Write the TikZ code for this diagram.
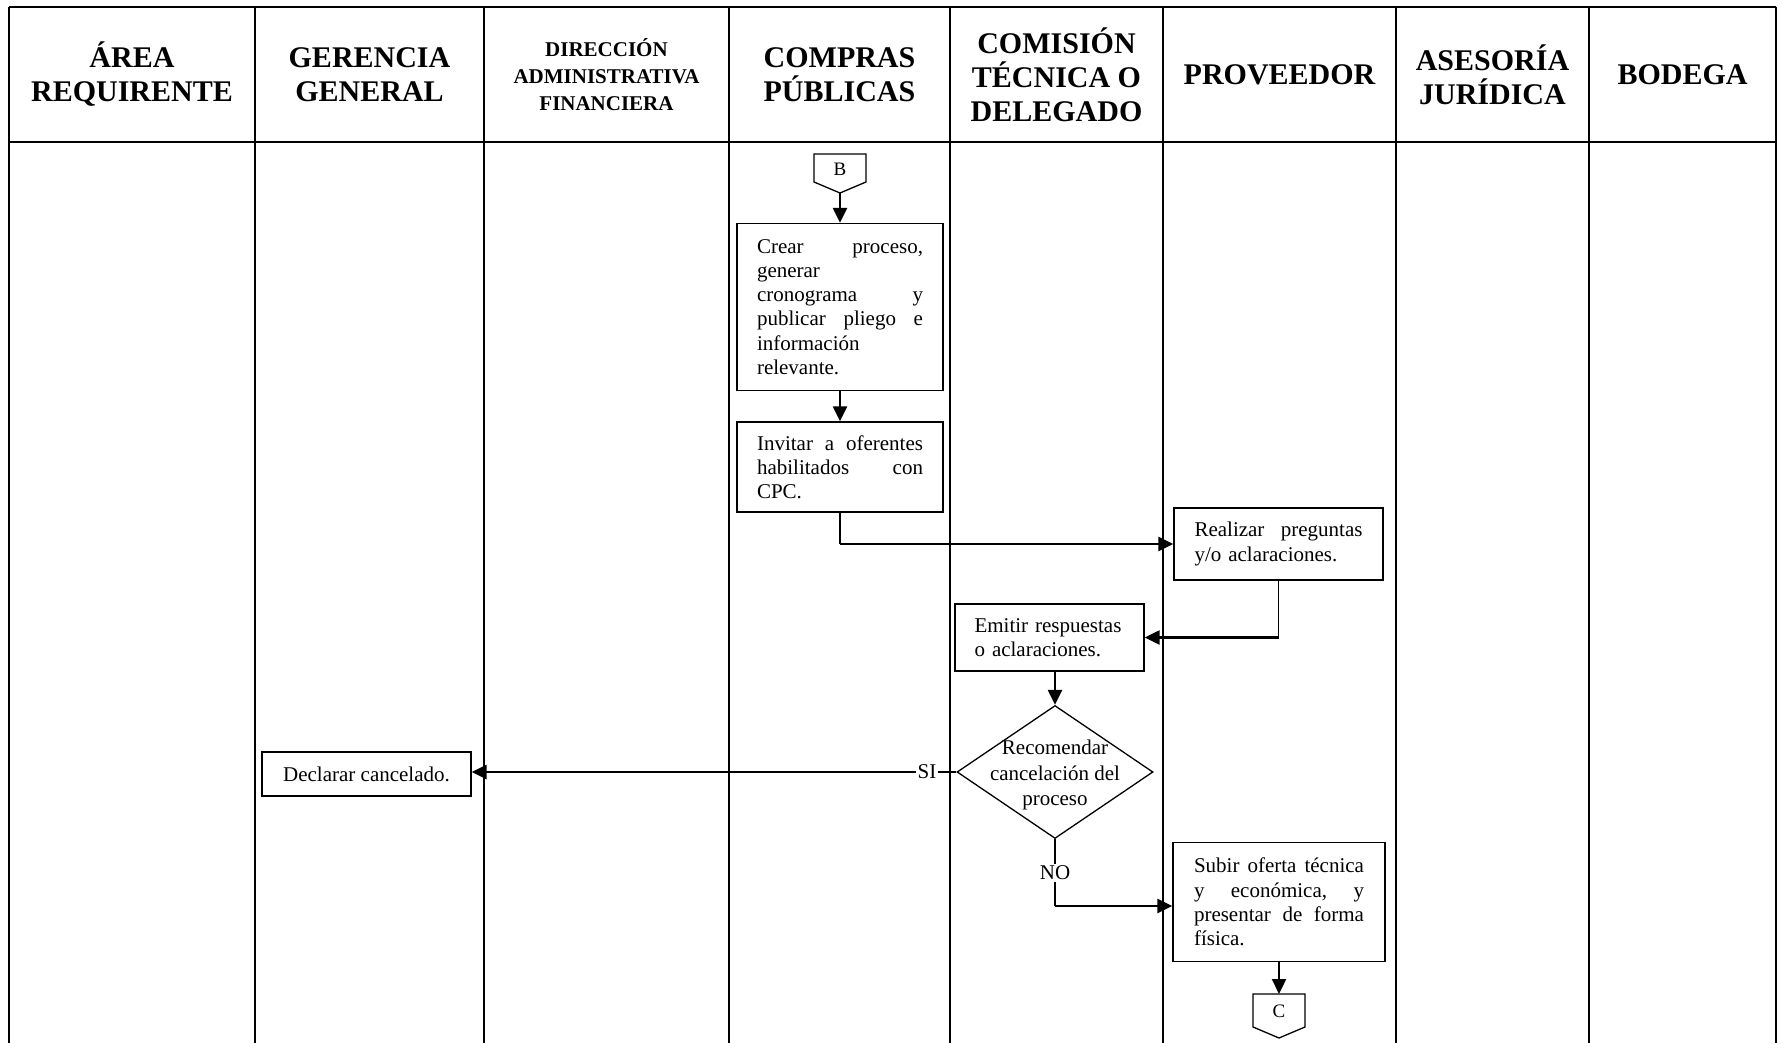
\documentclass[tikz,border=0pt]{standalone}
\usepackage{fontspec}
\setmainfont{Liberation Serif}
\usetikzlibrary{arrows.meta,shapes.geometric}
\newcommand\bodyf{\fontsize{21}{24.2}\selectfont}
\newcommand\headf{\fontsize{30}{34}\selectfont\bfseries}
\newcommand\heads{\fontsize{21}{27}\selectfont\bfseries}
\begin{document}
\begin{tikzpicture}[x=1pt,y=-1pt,
  lane/.style={line width=2pt},
  hdr/.style={font=\headf, align=center, inner sep=0pt},
  proc/.style={draw, line width=1.3pt, font=\bodyf, inner ysep=0pt, align=left},
  lbl/.style={font=\bodyf, inner sep=1pt},
  arr/.style={line width=2.3pt, -{Triangle[length=15pt,width=14pt]}},
  thinl/.style={line width=1.2pt},
  conn/.style={draw, line width=1.3pt}]
\useasboundingbox (0,0) rectangle (1778,1043);
% lanes
\draw[lane] (9,7) -- (1776,7);
\draw[lane] (9,142) -- (1776,142);
\foreach \x in {9,255,484,729,950,1163,1396,1589,1776}
  \draw[lane] (\x,7) -- (\x,1043);
% headers
\node[hdr] (h1) at (132,74.5) {ÁREA\\REQUIRENTE};
\node[hdr] (h2) at (369.5,74.5) {GERENCIA\\GENERAL};
\node[hdr, font=\heads] (h3) at (606.5,75) {DIRECCIÓN\\ADMINISTRATIVA\\FINANCIERA};
\node[hdr] (h4) at (839.5,74.5) {COMPRAS\\PÚBLICAS};
\node[hdr] (h5) at (1056.5,75) {COMISIÓN\\TÉCNICA O\\DELEGADO};
\node[hdr] (h6) at (1279.5,75) {PROVEEDOR};
\node[hdr] (h7) at (1492.5,74.5) {ASESORÍA\\JURÍDICA};
\node[hdr] (h8) at (1682.5,75) {BODEGA};
% connector B
\draw[conn] (814,154) -- (866,154) -- (866,182) -- (840,193) -- (814,182) -- cycle;
\node[lbl, font=\fontsize{19}{22}\selectfont] (bl) at (840,169) {B};
\coordinate (bpt) at (840,193);
% boxes
\node[proc, minimum width=206pt, minimum height=167pt, text width=166pt] (box1) at (840,307)
 {Crear\hfill proceso,\\generar\\cronograma\hfill y\\publicar\hfill pliego\hfill e\\información\\relevante.};
\node[proc, minimum width=206pt, minimum height=90pt, text width=166pt] (box2) at (840,467)
 {Invitar\hfill a\hfill oferentes\\habilitados\hfill con\\CPC.};
\node[proc, minimum width=209pt, minimum height=72pt, text width=168pt] (box3) at (1278.5,544)
 {Realizar\hfill preguntas\\y/o aclaraciones.};
\node[proc, minimum width=189pt, minimum height=67pt, text width=150pt] (box4) at (1049.5,637.5)
 {Emitir respuestas\\o aclaraciones.};
\node[draw, diamond, line width=1.3pt, minimum width=196pt, minimum height=133pt, inner sep=0pt] (dia) at (1055,772) {};
\node[font=\bodyf, align=center, inner sep=0pt] (diat) at (1055,775) {Recomendar\\[1.5pt]cancelación del\\[1.5pt]proceso};
\node[proc, minimum width=209pt, minimum height=44pt, align=center] (decl) at (366.5,774) {Declarar cancelado.};
\node[proc, minimum width=212pt, minimum height=119pt, text width=170pt] (box5) at (1279,902)
 {Subir\hfill oferta\hfill técnica\\y\hfill económica,\hfill y\\presentar\hfill de\hfill forma\\física.};
% connector C
\draw[conn] (1253,994) -- (1305,994) -- (1305,1027) -- (1279,1038) -- (1253,1027) -- cycle;
\node[lbl, font=\fontsize{19}{22}\selectfont] (cl) at (1279,1011) {C};
\coordinate (ctop) at (1279,994);
% labels
\node[lbl] (si) at (927,772) {SI};
\node[lbl, fill=white, inner sep=2pt] (no) at (1055,873) {NO};
% connectors
\draw[arr] (bpt) -- (box1.north);
\draw[arr] (box1.south) -- (box2.north);
\coordinate (c1) at (box2.south |- box3.west);
\draw[thinl] (box2.south) -- (c1);
\draw[arr] (c1) -- (box3.west);
\coordinate (c2) at (box3.south |- box4.east);
\draw[thinl] (box3.south) -- (c2);
\draw[arr] (c2) -- (box4.east);
\draw[arr] (box4.south -| dia.north) -- (dia.north);
\draw[thinl] (dia.west) -- (si.east);
\draw[arr] (si.west) -- (si.west -| decl.east);
\draw[thinl] (dia.south) -- (no.north);
\coordinate (c3) at (1055,906);
\draw[thinl] (no.south) -- (c3);
\draw[arr] (c3) -- (c3 -| box5.west);
\draw[arr] (box5.south) -- (ctop);
\end{tikzpicture}
\end{document}
